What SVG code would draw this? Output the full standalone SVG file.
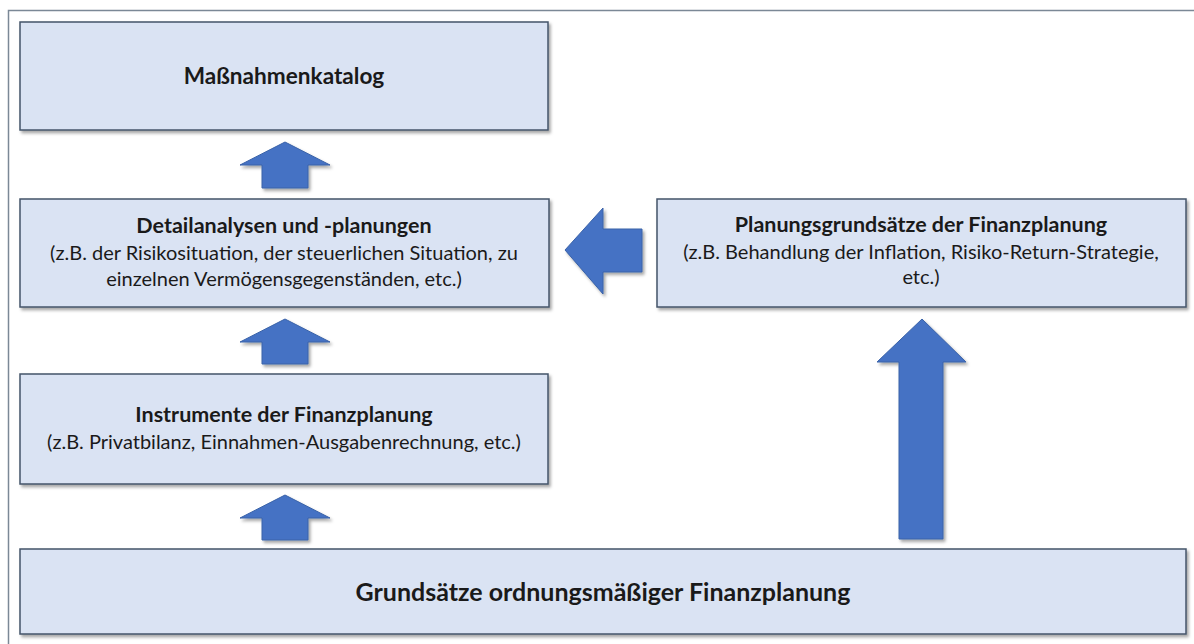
<svg xmlns="http://www.w3.org/2000/svg" width="1194" height="644" viewBox="0 0 1194 644">
  <style>
    .box { fill: #dae3f3; stroke: #44546a; stroke-width: 1.5; }
    .arrow { fill: #4472c4; stroke: #3a62a8; stroke-width: 1; }
    .title { font-family: Lato, "Liberation Sans", sans-serif; font-weight: bold; fill: #1a1a1a; text-anchor: middle; font-size: 21.5px; }
    .sub { font-family: Lato, "Liberation Sans", sans-serif; fill: #1a1a1a; text-anchor: middle; font-size: 20px; }
    .frame { stroke: #7b8896; stroke-width: 1.5; fill: none; }
  </style>
  <defs>
    <filter id="shadow" x="-5%" y="-10%" width="115%" height="130%">
      <feDropShadow dx="2" dy="2.5" stdDeviation="1.5" flood-color="#000" flood-opacity="0.35"/>
    </filter>
  </defs>

  <rect x="0" y="0" width="1194" height="644" fill="#ffffff"/>
  <!-- outer frame: only top and left edges lie inside the canvas -->
  <path class="frame" d="M8.5,644 L8.5,10.5 L1194,10.5"/>

  <g id="node-massnahmenkatalog">
    <rect class="box" x="20" y="22" width="528" height="108" filter="url(#shadow)"/>
    <text class="title" x="284" y="84" style="font-size:22.6px">Maßnahmenkatalog</text>
  </g>

  <g id="node-detailanalysen">
    <rect class="box" x="20" y="199" width="529" height="108" filter="url(#shadow)"/>
    <text class="title" x="284" y="233">Detailanalysen und -planungen</text>
    <text class="sub" x="284" y="260">(z.B. der Risikosituation, der steuerlichen Situation, zu</text>
    <text class="sub" x="284" y="286">einzelnen Vermögensgegenständen, etc.)</text>
  </g>

  <g id="node-planungsgrundsaetze">
    <rect class="box" x="657" y="199" width="529" height="108" filter="url(#shadow)"/>
    <text class="title" x="921" y="232">Planungsgrundsätze der Finanzplanung</text>
    <text class="sub" x="921" y="259">(z.B. Behandlung der Inflation, Risiko-Return-Strategie,</text>
    <text class="sub" x="921" y="284">etc.)</text>
  </g>

  <g id="node-instrumente">
    <rect class="box" x="20" y="374" width="528" height="110" filter="url(#shadow)"/>
    <text class="title" x="284" y="422">Instrumente der Finanzplanung</text>
    <text class="sub" x="284" y="449">(z.B. Privatbilanz, Einnahmen-Ausgabenrechnung, etc.)</text>
  </g>

  <g id="node-grundsaetze">
    <rect class="box" x="20" y="549" width="1166" height="85" filter="url(#shadow)"/>
    <text class="title" x="603" y="601" style="font-size:25px">Grundsätze ordnungsmäßiger Finanzplanung</text>
  </g>

  <g id="connectors" filter="url(#shadow)">
    <polygon class="arrow" points="285,142 330,165 308,165 308,188 262,188 262,165 240,165"/>
    <polygon class="arrow" points="285,319 330,342 308,342 308,364 262,364 262,342 240,342"/>
    <polygon class="arrow" points="285,495 330,518 308,518 308,540 262,540 262,518 240,518"/>
    <polygon class="arrow" points="922,319 966,362 943,362 943,539 899,539 899,362 877,362"/>
    <polygon class="arrow" points="565,250 603,208 603,229 642,229 642,272 603,272 603,294"/>
  </g>
</svg>
